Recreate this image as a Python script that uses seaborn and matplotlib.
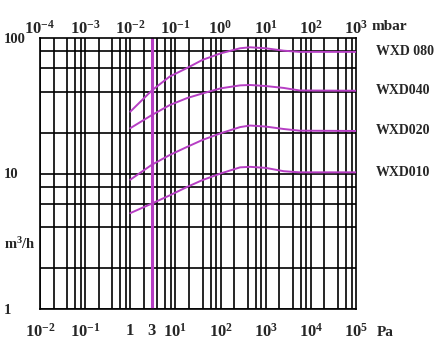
import numpy as np
import pandas as pd
import matplotlib
matplotlib.use("Agg")
import matplotlib.pyplot as plt
import matplotlib.transforms as mtransforms
from matplotlib.ticker import NullLocator
import seaborn as sns

# pumping speed curves (pressure in Pa, speed in m3/h)
PRESSURE_PA = [1, 3, 7.5, 18, 40, 100, 270, 450, 1000, 2500, 5600, 100000]
WXD080 = [28.6, 41, 52, 60, 69, 77, 84, 85.4, 84, 80.6, 79, 79]
WXD040 = [21.6, 27, 32, 36, 39, 42.5, 44.7, 45, 44.2, 42.8, 41, 40.8]
WXD020 = [9.0, 11.6, 13.7, 15.7, 17.7, 19.8, 22, 22.6, 22.2, 21.3, 20.7, 20.6]
WXD010 = [5.1, 6.0, 6.9, 7.95, 8.95, 10, 11.1, 11.2, 11.0, 10.4, 10.2, 10.2]
MODELS = ["WXD 080", "WXD040", "WXD020", "WXD010"]

BOTTOM_TICKS = [1e-2, 1e-1, 1, 3, 1e1, 1e2, 1e3, 1e4, 1e5]
BOTTOM_LABELS = [r"10$^{-2}$", r"10$^{-1}$", "1", "3", r"10$^{1}$",
                 r"10$^{2}$", r"10$^{3}$", r"10$^{4}$", r"10$^{5}$"]
TOP_TICKS = [1e-2, 1e-1, 1, 1e1, 1e2, 1e3, 1e4, 1e5]
TOP_LABELS = [r"10$^{-4}$", r"10$^{-3}$", r"10$^{-2}$", r"10$^{-1}$",
              r"10$^{0}$", r"10$^{1}$", r"10$^{2}$", r"10$^{3}$"]
Y_TICKS = [1, 10, 100]
Y_LABELS = ["1", "10", "100"]
GRID_MANTISSA = [1, 2, 4, 6, 8]
MARK_PA = 3

CURVE_COLOR = "#b63ec4"
W, H = 436, 356


def main() -> None:
    sns.set_style("white")
    plt.rcParams["font.family"] = ["Liberation Serif", "DejaVu Serif"]
    plt.rcParams["font.weight"] = "bold"
    plt.rcParams["mathtext.fontset"] = "custom"
    plt.rcParams["mathtext.rm"] = "Liberation Serif:bold"
    plt.rcParams["mathtext.default"] = "rm"

    df = pd.DataFrame({
        "pressure": PRESSURE_PA * 4,
        "speed": WXD080 + WXD040 + WXD020 + WXD010,
        "model": np.repeat(MODELS, len(PRESSURE_PA)),
    })

    fig = plt.figure(figsize=(W / 100, H / 100), dpi=100)
    ax = fig.add_axes([40 / W, 1 - 309 / H, 316 / W, 271 / H])

    # hand-drawn style grid: 1, 2, 4, 6, 8 in every decade
    for dec in range(-2, 5):
        for m in GRID_MANTISSA:
            ax.axvline(m * 10.0 ** dec, color="black", lw=1.2, zorder=1)
    for dec in range(0, 2):
        for m in GRID_MANTISSA:
            ax.axhline(m * 10.0 ** dec, color="black", lw=1.2, zorder=1)

    ax.axvline(MARK_PA, color=CURVE_COLOR, lw=2.2, zorder=2)

    sns.lineplot(data=df, x="pressure", y="speed", hue="model",
                 palette=[CURVE_COLOR] * 4, legend=False, ax=ax,
                 linewidth=1.4, zorder=3)

    ax.set_xscale("log")
    ax.set_yscale("log")
    ax.set_xlim(1e-2, 1e5)
    ax.set_ylim(1, 100)
    ax.set_xlabel("")
    ax.set_ylabel("")
    for s in ax.spines.values():
        s.set_color("black")
        s.set_linewidth(1.2)

    ax.set_xticks(BOTTOM_TICKS, BOTTOM_LABELS, fontsize=12)
    ax.set_yticks(Y_TICKS, Y_LABELS, fontsize=10.5)
    ax.xaxis.set_minor_locator(NullLocator())
    ax.yaxis.set_minor_locator(NullLocator())
    for lab in ax.get_yticklabels():
        lab.set_ha("left")
    ax.tick_params(axis="x", length=0, pad=10)
    ax.tick_params(axis="y", length=0, pad=26)

    top = ax.twiny()
    top.set_xscale("log")
    top.set_xlim(ax.get_xlim())
    top.set_xticks(TOP_TICKS, TOP_LABELS, fontsize=12)
    top.xaxis.set_minor_locator(NullLocator())
    top.tick_params(axis="x", length=0, pad=0)
    for s in top.spines.values():
        s.set_visible(False)

    # model names at the right end of each curve
    trans = mtransforms.blended_transform_factory(ax.transAxes, ax.transData)
    for name, vals in zip(MODELS, [WXD080, WXD040, WXD020, WXD010]):
        ax.text(1.063, vals[-1], name, transform=trans, ha="left", va="center",
                fontsize=10, clip_on=False)

    fig.text(372 / W, 1 - 26 / H, "mbar", ha="left", va="center", fontsize=11)
    fig.text(377 / W, 1 - 332 / H, "Pa", ha="left", va="center", fontsize=11)
    fig.text(4 / W, 1 - 244 / H, "m$^{3}$/h", ha="left", va="center", fontsize=10.5)

    fig.savefig("out.png", dpi=100)
    plt.close(fig)


if __name__ == "__main__":
    main()
